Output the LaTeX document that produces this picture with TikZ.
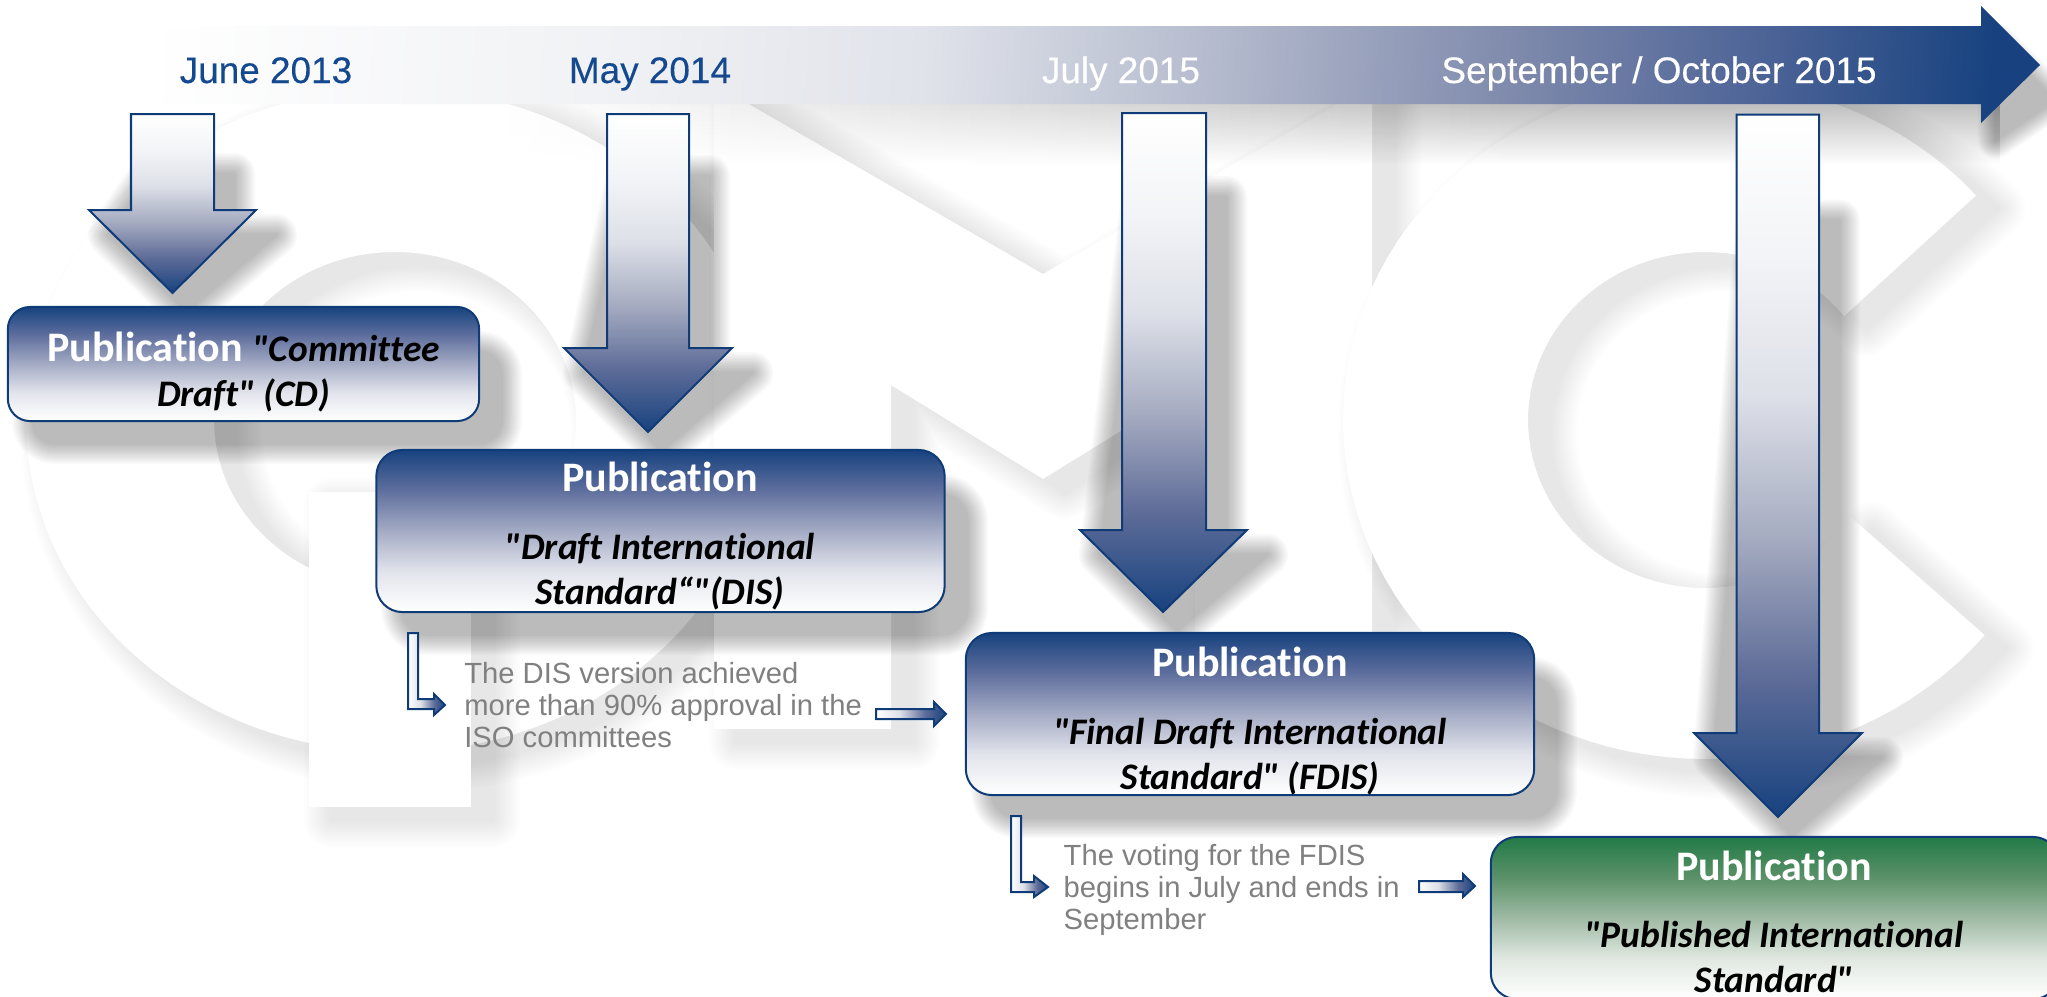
\documentclass[tikz,border=0pt]{standalone}
\usepackage{fontspec}
\setmainfont{Liberation Sans}
\newfontfamily\pubfont[Ligatures=NoCommon]{Carlito}
\newfontfamily\datefont[FakeBold=0.25]{Liberation Sans}
\usetikzlibrary{fadings}
\definecolor{navyline}{HTML}{0F3C78}
\definecolor{navyfill}{HTML}{17427F}
\definecolor{datenavy}{HTML}{14488F}
\definecolor{notegray}{HTML}{808080}
\definecolor{a20}{HTML}{F3F4F7}
\definecolor{a40}{HTML}{DDE0E8}
\definecolor{a60}{HTML}{A6ACC1}
\definecolor{a80}{HTML}{5E6C98}
\definecolor{b25}{HTML}{5F6F9E}
\definecolor{b50}{HTML}{A4ABC4}
\definecolor{b75}{HTML}{E2E4EC}
\definecolor{g00}{HTML}{217A47}
\definecolor{g25}{HTML}{5B9168}
\definecolor{g50}{HTML}{9FBAA4}
\definecolor{g75}{HTML}{E0E8E1}
\definecolor{t30}{HTML}{F0F1F4}
\definecolor{t50}{HTML}{E0E3EA}
\definecolor{t65}{HTML}{B4BACD}
\definecolor{t80}{HTML}{7F8AAC}
\definecolor{t90}{HTML}{4F6598}
\pgfdeclareverticalshading{arrowsh}{100bp}{color(0bp)=(navyfill); color(25bp)=(navyfill); color(35bp)=(a80); color(45bp)=(a60); color(55bp)=(a40); color(65bp)=(a20); color(75bp)=(white); color(100bp)=(white)}
\pgfdeclareverticalshading{boxsh}{100bp}{color(0bp)=(white); color(25bp)=(white); color(37.5bp)=(b75); color(50bp)=(b50); color(62.5bp)=(b25); color(75bp)=(navyfill); color(100bp)=(navyfill)}
\pgfdeclareverticalshading{greensh}{100bp}{color(0bp)=(white); color(25bp)=(white); color(37.5bp)=(g75); color(50bp)=(g50); color(62.5bp)=(g25); color(75bp)=(g00); color(100bp)=(g00)}
\pgfdeclarehorizontalshading{timesh}{100bp}{color(0bp)=(white); color(25bp)=(white); color(38bp)=(t30); color(46bp)=(t50); color(54bp)=(t65); color(62bp)=(t80); color(68.5bp)=(t90); color(75bp)=(navyfill); color(100bp)=(navyfill)}
\pgfdeclarehorizontalshading{smallsh}{100bp}{color(0bp)=(white); color(25bp)=(white); color(42bp)=(a40); color(60bp)=(a80); color(75bp)=(navyfill); color(100bp)=(navyfill)}
\newcommand{\softshadow}[3]{%
  \foreach \w in {1,...,12}{%
    \begin{scope}[transparency group,opacity=#2]
      \path (-100,-100) rectangle (2150,1100);
      \path[fill=black,draw=black,line join=round,even odd rule,line width=\w*#1*0.01cm] #3;
    \end{scope}}}
\newcommand{\arrowshade}[9]{%
  \softshadow{3.5}{0.024}{({#1+20},{#3+#9}) -- ({#2+20},{#3+#9}) -- ({#2+20},{#4+25}) -- ({#6+20},{#4+25}) -- ({#7+14},{#8+18}) -- ({#5+20},{#4+25}) -- cycle}}
\tikzset{
  bigarrow/.style={shading=arrowsh,draw=navyline,line width=0.02cm,line join=miter},
  smallarrow/.style={shading=smallsh,draw=navyline,line width=0.02cm,line join=miter},
  pubbox/.style={rectangle,rounded corners=0.26cm,shading=boxsh,draw=navyline,line width=0.02cm,inner sep=0pt,minimum width=5.68cm,minimum height=1.62cm},
  datelbl/.style={anchor=base,inner sep=0pt,font=\datefont\fontsize{10.5}{12}\selectfont},
  pubtxt/.style={align=center,inner sep=0pt,font=\pubfont\fontsize{11.95}{12.8}\selectfont\bfseries},
  notetxt/.style={align=left,inner sep=0pt,anchor=north west,text=notegray,font=\fontsize{8.3}{9.1}\selectfont}
}
\newcommand{\pubw}[1]{\textcolor{white}{#1}}
\newcommand{\pubi}[1]{\textcolor{black}{\fontsize{10.65}{12.8}\selectfont\itshape #1}}
\begin{document}
\begin{tikzpicture}[x=0.01cm,y=-0.01cm]
\begin{scope}
\clip (0,0) rectangle (2047,996);
\fill[white] (0,0) rectangle (2047,996);
% watermark Q
\softshadow{4.5}{0.0095}{[shift={(22,13)}] (395,420) ellipse [x radius=369,y radius=332] (395,420) ellipse [x radius=181,y radius=168]}
\fill[white,even odd rule] (395,420) ellipse [x radius=369,y radius=332] (395,420) ellipse [x radius=181,y radius=168];
\softshadow{4.5}{0.0095}{(331,505) rectangle (493,820)}
\fill[white] (309,492) rectangle (471,807);
% watermark N
\softshadow{4.5}{0.0095}{[shift={(22,13)}] (714,84) -- (1043,274) -- (1372,84) -- (1372,729) -- (1195,729) -- (1195,385) -- (1043,479) -- (891,385) -- (891,729) -- (714,729) -- cycle}
\fill[white] (714,84) -- (1043,274) -- (1372,84) -- (1372,729) -- (1195,729) -- (1195,385) -- (1043,479) -- (891,385) -- (891,729) -- (714,729) -- cycle;
% watermark C
\softshadow{4.5}{0.0095}{[shift={(22,13)}] plot[domain=-41.5:-320.6,samples=90] ({1705+362*cos(\x)},{420+339*sin(\x)}) -- plot[domain=35:321.8,samples=90] ({1705+177*cos(\x)},{420+168*sin(\x)}) -- cycle}
\fill[white] plot[domain=-41.5:-320.6,samples=90] ({1705+362*cos(\x)},{420+339*sin(\x)}) -- plot[domain=35:321.8,samples=90] ({1705+177*cos(\x)},{420+168*sin(\x)}) -- cycle;
% timeline shadow
\foreach \cx in {500,510,...,1990}{%
  \pgfmathsetmacro{\aval}{min(0.25,0.25*(\cx-500)/1000)}
  \fill[black,fill opacity=\aval,path fading=south] (\cx,104) rectangle ({\cx+10},165);}
\softshadow{3}{0.022}{(1996,41) -- (2055,100) -- (1996,140) -- cycle}
% timeline
\shade[shading=timesh,shading angle=-3] (100,26) -- (1981,26) -- (1981,6) -- (2040,65) -- (1981,123) -- (1981,104) -- (100,104) -- cycle;
% shadows of the block arrows
\arrowshade{131}{214}{114}{210}{89}{256}{172.5}{293}{60}
\arrowshade{607}{689}{114}{348}{564}{732}{648}{432}{62}
\arrowshade{1122}{1206}{113}{530}{1080}{1247}{1163}{612}{84}
\arrowshade{1736.5}{1819}{114.5}{733}{1694}{1862}{1778}{817}{106}
% shadows of the boxes
\softshadow{3.5}{0.024}{[rounded corners=0.22cm] (33,352) rectangle (501,443)}
\softshadow{3.5}{0.024}{[rounded corners=0.26cm] (402,495) rectangle (967,634)}
\softshadow{3.5}{0.024}{[rounded corners=0.26cm] (992,678) rectangle (1556,817)}
% block arrows
\shadedraw[bigarrow] (131,114) -- (214,114) -- (214,210) -- (256,210) -- (172.5,293) -- (89,210) -- (131,210) -- cycle;
\shadedraw[bigarrow] (607,114) -- (689,114) -- (689,348) -- (732,348) -- (648,432) -- (564,348) -- (607,348) -- cycle;
\shadedraw[bigarrow] (1122,113) -- (1206,113) -- (1206,530) -- (1247,530) -- (1163,612) -- (1080,530) -- (1122,530) -- cycle;
\shadedraw[bigarrow] (1736.5,114.5) -- (1819,114.5) -- (1819,733) -- (1862,733) -- (1778,817) -- (1694,733) -- (1736.5,733) -- cycle;
% boxes
\node[pubbox,rounded corners=0.22cm,minimum width=4.71cm,minimum height=1.14cm] (b1) at (243.5,364) {};
\node[pubbox] (b2) at (660.5,531) {};
\node[pubbox] (b3) at (1250,714) {};
\node[pubbox,shading=greensh] (b4) at (1775,918) {};
% small arrows
\shadedraw[smallarrow] (408,633) -- (418,633) -- (418,699) -- (434,699) -- (434,694) -- (445,705) -- (434,715) -- (434,709) -- (408,709) -- cycle;
\shadedraw[smallarrow] (876,709) -- (934,709) -- (934,702) -- (946,714) -- (934,726) -- (934,719) -- (876,719) -- cycle;
\shadedraw[smallarrow] (1011,816) -- (1021,816) -- (1021,882) -- (1034,882) -- (1034,876) -- (1048,887) -- (1034,897) -- (1034,892) -- (1011,892) -- cycle;
\shadedraw[smallarrow] (1419,881) -- (1463,881) -- (1463,874) -- (1475,886) -- (1463,897) -- (1463,892) -- (1419,892) -- cycle;
% dates
\node[datelbl,text=datenavy] (d1) at (266,83) {June 2013};
\node[datelbl,text=datenavy] (d2) at (650,83) {May 2014};
\node[datelbl,text=white] (d3) at (1121,83) {July 2015};
\node[datelbl,text=white] (d4) at (1659,83) {September / October 2015};
% box texts
\node[pubtxt] (t1) at (243.5,372) {\pubw{Publication} \pubi{"Committee}\\ \pubi{Draft" (CD)}};
\node[pubtxt] (t2) at (660,536) {\pubw{Publication}\\[0.23cm] \pubi{"Draft International}\\ \pubi{Standard“"(DIS)}};
\node[pubtxt] (t3) at (1250,721.5) {\pubw{Publication}\\[0.23cm] \pubi{"Final Draft International}\\ \pubi{Standard" (FDIS)}};
\node[pubtxt] (t4) at (1774,922) {\pubw{Publication}\\[0.22cm] \pubi{"Published International}\\ \pubi{Standard"}};
% notes
\node[notetxt] (n1) at (463.6,662) {The DIS version achieved\\more than 90\% approval in the\\ISO committees};
\node[notetxt] (n2) at (1063,844) {The voting for the FDIS\\begins in July and ends in\\September};
\end{scope}
\pgfresetboundingbox
\useasboundingbox (0,0) rectangle (2047,996);
\end{tikzpicture}
\end{document}
